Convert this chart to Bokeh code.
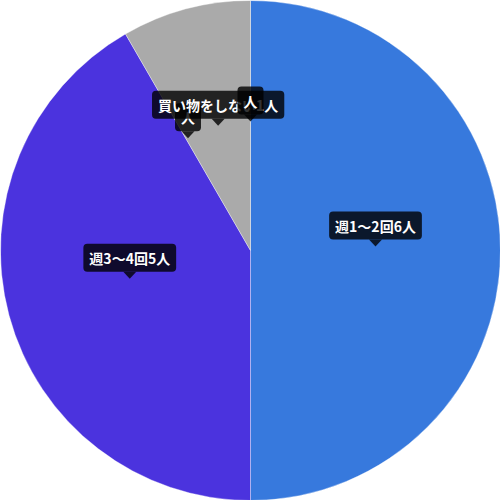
import math
from bokeh.plotting import figure
from bokeh.models import Range1d, Label, ColumnDataSource
from bokeh.embed import file_html
from bokeh.resources import INLINE

# Data
categories = ["週1〜2回", "週3〜4回", "", "買い物をしない", ""]
counts = [6, 5, 0, 1, 0]
label_texts = ["週1〜2回6人", "週3〜4回5人", "人", "買い物をしない1人", "人"]
colors = ["#3779DD", "#4B33DE", "#AAAAAA", "#AAAAAA", "#AAAAAA"]

W = H = 500
p = figure(width=W, height=H, x_range=Range1d(-1, 1), y_range=Range1d(-1, 1),
           output_backend="svg", toolbar_location=None, min_border=0)
p.axis.visible = False
p.grid.visible = False
p.outline_line_color = None
p.background_fill_color = "white"

total = sum(counts)
px = 2.0 / W  # data units per pixel

starts, ends, mids = [], [], []
cum = 0.0
for c in counts:
    s = math.pi / 2 - 2 * math.pi * cum / total
    cum += c
    e = math.pi / 2 - 2 * math.pi * cum / total
    starts.append(s)
    ends.append(e)
    mids.append((s + e) / 2)

nz = [i for i, c in enumerate(counts) if c > 0]
src = ColumnDataSource(dict(
    start=[starts[i] for i in nz], end=[ends[i] for i in nz],
    color=[colors[i] for i in nz]))
p.wedge(x=0, y=0, radius=1, start_angle="start", end_angle="end",
        direction="clock", fill_color="color", line_color="white",
        line_width=0.6, line_alpha=0.6, source=src)

# pointers and labels
for i, t in enumerate(label_texts):
    ax = 0.5 * math.cos(mids[i])
    ay = 0.5 * math.sin(mids[i])
    xs = [ax - 6.5 * px, ax + 6.5 * px, ax]
    ys = [ay + 11 * px, ay + 11 * px, ay + 4 * px]
    p.patch(xs, ys, fill_color="black", fill_alpha=0.8, line_color=None)
    lab = Label(x=ax, y=ay, text=t, anchor="bottom_center", y_offset=11,
                text_font="Noto Sans CJK JP", text_font_style="bold",
                text_font_size="14px", text_color="white",
                background_fill_color="black", background_fill_alpha=0.8,
                border_radius=4, padding=(6, 4))
    p.add_layout(lab)

open("out.html", "w").write(file_html(p, INLINE))
